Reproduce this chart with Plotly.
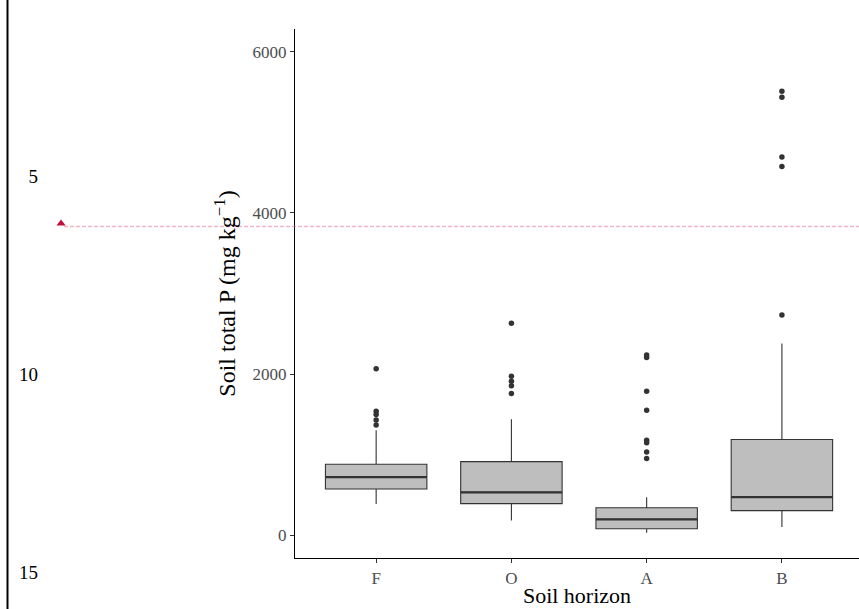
import plotly.graph_objects as go

# ---- data ----
horizons = ["F", "O", "A", "B"]
q1 = [575, 394, 83, 307]
median = [724, 534, 199, 476]
q3 = [882, 915, 344, 1189]
lower_whisker = [389, 186, 34, 104]
upper_whisker = [1304, 1441, 472, 2381]
outliers = {
    "F": [2066, 1540, 1500, 1430, 1370],
    "O": [2630, 1975, 1913, 1855, 1760],
    "A": [2236, 2207, 1789, 1553, 1180, 1150, 1035, 953],
    "B": [5507, 5433, 4692, 4575, 2733],
}
ref_total_p = 3830          # horizontal reference level (mg/kg)
ref_depth = 6.2             # triangle on the left depth axis
depth_ticks = [5, 10, 15]

W, H = 859, 609
serif = "Liberation Serif, Times New Roman, serif"
box_fill = "#BEBEBE"
dark = "#333333"
half_w = 0.375

fig = go.Figure()
positions = list(range(1, len(horizons) + 1))

for i, h in enumerate(horizons):
    p = positions[i]
    fig.add_trace(go.Box(
        x=[p], q1=[q1[i]], median=[median[i]], q3=[q3[i]],
        lowerfence=[lower_whisker[i]], upperfence=[upper_whisker[i]],
        width=2 * half_w, whiskerwidth=0, fillcolor=box_fill,
        line=dict(color=dark, width=1.1),
        boxpoints=False, showlegend=False, hoverinfo="skip",
        xaxis="x", yaxis="y",
    ))
    # thicker median line
    fig.add_trace(go.Scatter(
        x=[p - half_w, p + half_w], y=[median[i], median[i]], mode="lines",
        line=dict(color=dark, width=2.2), showlegend=False, hoverinfo="skip",
        xaxis="x", yaxis="y",
    ))
    fig.add_trace(go.Scatter(
        x=[p] * len(outliers[h]), y=outliers[h], mode="markers",
        marker=dict(color=dark, size=5.5), showlegend=False,
        xaxis="x", yaxis="y",
    ))

# left depth panel triangle
fig.add_trace(go.Scatter(
    x=[0.207], y=[ref_depth], mode="markers",
    marker=dict(symbol="triangle-up", color="#C0103A", size=8),
    showlegend=False, xaxis="x2", yaxis="y2",
))

x0_dom = 295 / W
y0_dom = 1 - 558 / H
y1_dom = 1 - 29 / H

fig.update_layout(
    width=W, height=H,
    margin=dict(l=0, r=0, t=0, b=0),
    paper_bgcolor="white", plot_bgcolor="white",
    font=dict(family=serif),
    xaxis=dict(
        domain=[x0_dom, 1], range=[0.4, 4.57],
        tickvals=positions, ticktext=horizons,
        showline=True, linecolor="black", linewidth=1.2,
        ticks="outside", ticklen=4, tickcolor="#333333",
        tickfont=dict(family=serif, size=17, color="#4D4D4D"),
        showgrid=False, zeroline=False,
        title=dict(text="Soil horizon", font=dict(family=serif, size=22, color="black"), standoff=1),
        anchor="y",
    ),
    yaxis=dict(
        domain=[y0_dom, y1_dom], range=[-280, 6280],
        tickvals=[0, 2000, 4000, 6000],
        showline=True, linecolor="black", linewidth=1.2,
        ticks="outside", ticklen=4, tickcolor="#333333",
        tickfont=dict(family=serif, size=17, color="#4D4D4D"),
        showgrid=False, zeroline=False,
        title=dict(text="Soil total P (mg kg<sup>−1</sup>)",
                   font=dict(family=serif, size=24, color="black"), standoff=10),
        anchor="x",
    ),
    xaxis2=dict(
        domain=[0, x0_dom], range=[0, 1], visible=False,
        anchor="y2",
    ),
    yaxis2=dict(
        domain=[0, 1], range=[15.92, 0.56],
        tickvals=depth_ticks, showline=False, showgrid=False, zeroline=False,
        ticks="", anchor="free", position=38 / W,
        tickfont=dict(family=serif, size=19, color="black"),
    ),
    shapes=[
        dict(type="line", xref="paper", yref="paper", x0=7.5 / W, x1=7.5 / W, y0=0, y1=1,
             line=dict(color="black", width=2)),
        dict(type="line", xref="paper", yref="y", x0=64 / W, x1=1,
             y0=ref_total_p, y1=ref_total_p,
             line=dict(color="rgba(225,110,140,0.5)", width=1.5, dash="4px,2px")),
    ],
)

fig.write_html("out.html", config={"displayModeBar": False},
               post_script="document.body.style.margin='0';")
